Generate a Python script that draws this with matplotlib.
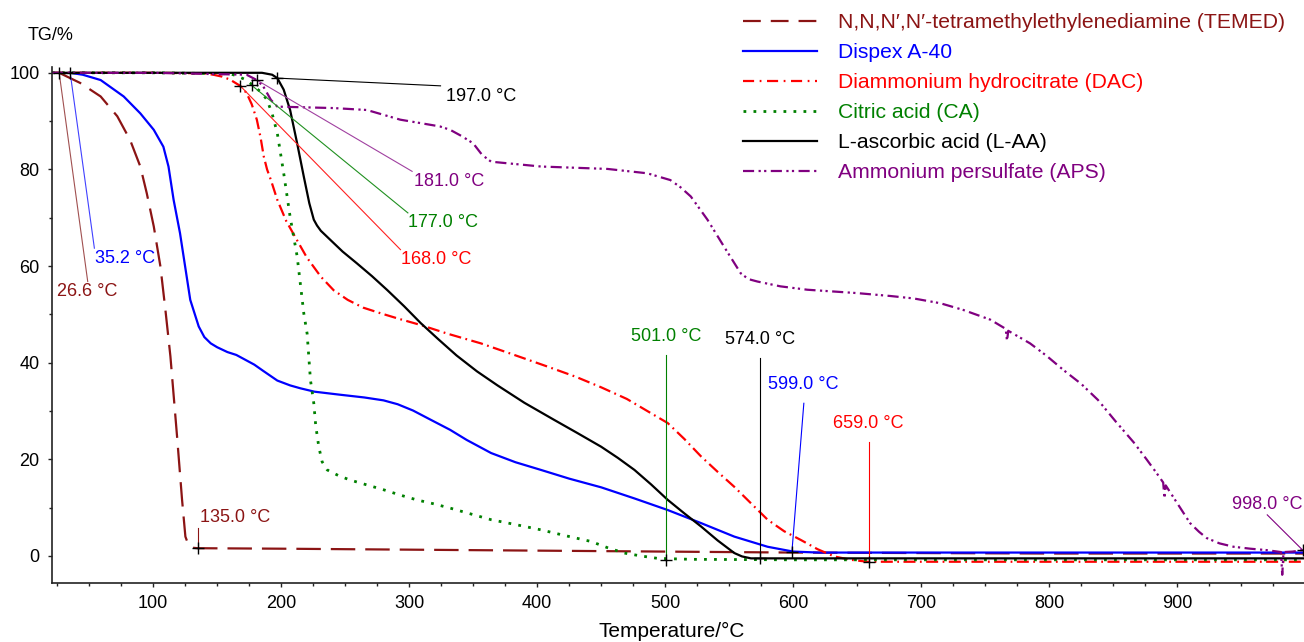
import matplotlib
matplotlib.use('Agg')
import matplotlib.pyplot as plt
from matplotlib.lines import Line2D
from matplotlib.ticker import MultipleLocator

plt.rcParams['font.family'] = ['Liberation Sans', 'DejaVu Sans']

# TG curves (temperature in degC, mass in %)
temed_T = [26.6, 43, 59, 72, 82, 90, 95, 100.5, 105.7, 109.6, 113.5, 118.7, 122.6, 125.2, 126.6,
           128.5, 130.5, 135, 200, 300, 400, 500, 600, 700, 800, 900, 1000]
temed_m = [100, 97.9, 95.1, 91, 86.1, 80.6, 75.1, 68.2, 59.9, 50.9, 41.3, 24.7, 11.6, 4, 3.0,
           2.1, 1.7, 1.6, 1.5, 1.3, 1.1, 0.9, 0.7, 0.6, 0.5, 0.5, 0.5]

dispex_T = [35.2, 45, 59, 77, 90, 100.5, 108, 112, 116, 121, 125, 129, 135.6, 140, 145, 150,
            158, 165, 172, 179, 186, 197, 207, 215, 226, 245, 265, 280, 291, 303, 316, 332, 345,
            364, 383, 403, 425, 450, 476, 502, 528, 554, 580, 600, 620, 700, 800, 900, 1000]
dispex_m = [100, 99.6, 98.5, 95.1, 91.6, 88.2, 84.7, 80.6, 73.7, 66.8, 59.9, 53, 47.5, 45.3, 44,
            43.2, 42.2, 41.6, 40.6, 39.6, 38.3, 36.3, 35.3, 34.7, 34, 33.4, 32.8, 32.2, 31.4, 30.1,
            28.3, 26.1, 24.0, 21.3, 19.4, 17.8, 16.0, 14.2, 11.9, 9.5, 6.8, 4, 1.9, 0.9, 0.7, 0.7,
            0.7, 0.7, 0.7]

dac_T = [21, 100, 140, 147, 154, 160, 168, 173, 177, 181, 184, 186.4, 189, 192, 197, 204, 211,
         220, 231, 241, 252, 264, 278, 293, 309, 330, 356, 380, 408, 430, 450, 470, 486, 502,
         515, 528, 541, 554, 567, 580, 593, 606, 619, 632, 645, 658, 700, 800, 900, 1000]
dac_m = [100, 100, 99.9, 99.6, 99.2, 98.6, 97.3, 95.8, 93.5, 90.3, 86.5, 82.7, 80, 77.8, 73.7,
         69.3, 66, 61.8, 57.8, 55, 53, 51.4, 50.2, 49, 47.8, 46, 44, 41.8, 39.2, 37.1, 34.9, 32.5,
         30.0, 27.5, 24.2, 20.6, 17.4, 14.3, 10.9, 7.5, 5.1, 3.3, 1.4, -0.1, -0.8, -1.2, -1.2,
         -1.2, -1.2, -1.2]

ca_T = [21, 100, 160, 165, 172, 178.6, 185, 189, 193, 197, 202, 207, 212.5, 217.7, 220.3, 222.9,
        225.5, 227, 229.4, 232, 236, 245, 254, 267, 280, 293, 306, 319, 332, 348, 364, 383, 403,
        422, 442, 455, 468, 481, 494, 520, 600, 700, 800, 900, 1000]
ca_m = [100, 100, 99.8, 99.4, 98.6, 97.3, 95.8, 94.4, 91.5, 87.5, 79.2, 70.2, 62, 50.2, 46, 36.4,
        31.6, 27, 22.6, 19.5, 17.8, 16.6, 15.7, 14.7, 13.7, 12.6, 11.6, 10.8, 9.9, 8.7, 7.5,
        6.5, 5.4, 4.2, 3.0, 1.7, 0.6, 0, -0.5, -0.7, -0.8, -0.8, -0.8, -0.8, -0.8]

laa_T = [21, 100, 185, 189, 193, 197, 202, 207, 212.5, 217.7, 222, 225.5, 228, 231, 238.5, 248,
         259, 271, 283, 296, 309, 323, 337, 353, 369, 390, 413, 431, 450, 463, 476, 489, 502,
         515, 528, 541, 554, 560, 567, 600, 700, 800, 900, 1000]
laa_m = [100, 100, 100, 99.8, 99.6, 98.9, 96.5, 92.3, 85.4, 78.5, 73, 69.6, 68.4, 67.3, 65.4,
         63, 60.6, 57.9, 55, 51.7, 48.2, 44.8, 41.5, 38.2, 35.3, 31.7, 28.2, 25.5, 22.6, 20.3,
         17.8, 14.8, 11.6, 8.8, 6.1, 3.2, 0.6, -0.1, -0.5, -0.5, -0.5, -0.5, -0.5, -0.5]

aps_T = [21, 100, 173, 181, 186, 189, 192, 197, 241, 267, 293, 324, 332, 341, 350, 357, 364,
         403, 455, 486, 504, 512, 520, 533, 546, 559, 565, 572, 590, 611, 650, 676, 694, 715,
         733, 754, 766, 767, 768, 785, 798, 811, 825, 838, 852, 866, 876, 884, 889, 890, 891,
         900, 910, 917, 923, 933, 944, 957, 970, 981, 982, 983, 990, 998, 1000]
aps_m = [100, 100, 99.6, 98.5, 97.2, 95.8, 94.4, 93, 92.7, 92.3, 90.3, 88.9, 88.2, 86.9, 85.4,
         83, 81.6, 80.6, 80.1, 79.2, 77.8, 76.3, 74.4, 69.6, 64, 58.5, 57.3, 56.8, 55.8, 55.1,
         54.4, 53.8, 53.3, 52.3, 50.9, 48.9, 47, 44.5, 46.6, 44, 41.4, 38.5, 35.6, 32.3, 27.8,
         23.5, 20, 17.1, 15.2, 12.0, 14.6, 10.9, 6.8, 5, 3.7, 2.6, 1.9, 1.5, 1.2, 0.8, -3.9, 0.8,
         0.9, 1.2, 1.2]

# onset / end temperatures with label positions
ann_T = [26.6, 35.2, 135.0, 197.0, 181.0, 177.0, 168.0, 501.0, 574.0, 599.0, 659.0, 998.0]
ann_m = [100, 100, 1.6, 98.9, 98.5, 97.4, 97.3, -0.8, -0.5, 0.9, -1.2, 1.2]
ann_lx = [48.9, 54.1, 135.0, 324.5, 302.3, 299.0, 293.2, 501.0, 574.0, 608.3, 659.0, 970.3]
ann_ly = [56.8, 63.7, 5.7, 97.3, 79.6, 71.0, 63.4, 41.6, 40.9, 31.6, 23.5, 8.5]
ann_tx = [25.0, 54.4, 137.0, 328.4, 303.6, 299.0, 293.5, 501.0, 574.0, 608.0, 659.0, 997.7]
ann_ty = [54.7, 61.6, 8.0, 95.0, 77.5, 69.1, 61.3, 43.7, 43.1, 33.7, 25.7, 10.6]
ann_ha = ['left', 'left', 'left', 'left', 'left', 'left', 'left', 'center', 'center', 'center',
          'center', 'right']
ann_col = ['#8b1414', '#0000ff', '#8b1414', '#000000', '#800080', '#008000', '#ff0000',
           '#008000', '#000000', '#0000ff', '#ff0000', '#800080']
ann_line = ['#a05050', '#4040ff', '#8b1414', '#000000', '#a040a0', '#209020', '#ff2020',
            '#008000', '#000000', '#0000ff', '#ff0000', '#800080']

names = ['N,N,N\u2032,N\u2032-tetramethylethylenediamine (TEMED)', 'Dispex A-40',
         'Diammonium hydrocitrate (DAC)', 'Citric acid (CA)', 'L-ascorbic acid (L-AA)',
         'Ammonium persulfate (APS)']
colors = ['#8b1414', '#0000ff', '#ff0000', '#008000', '#000000', '#800080']

fig = plt.figure(figsize=(13.04, 6.42), dpi=100)
ax = fig.add_axes([52 / 1304, 59 / 642, 1 - 52 / 1304, (583 - 67) / 642])

lw = 1.6
ax.plot(temed_T, temed_m, color=colors[0], lw=lw, dashes=(11, 4.5))
ax.plot(dispex_T, dispex_m, color=colors[1], lw=lw)
ax.plot(dac_T, dac_m, color=colors[2], lw=lw, dashes=(5.4, 2, 0.8, 2))
ax.plot(ca_T, ca_m, color=colors[3], lw=2, dashes=(1, 2.6))
ax.plot(laa_T, laa_m, color=colors[4], lw=lw)
ax.plot(aps_T, aps_m, color=colors[5], lw=lw, dashes=(5, 2, 1, 1.5, 1, 2))

for i in range(len(ann_T)):
    ax.plot([ann_T[i], ann_lx[i]], [ann_m[i], ann_ly[i]], color=ann_line[i], lw=0.8)
    ax.plot(ann_T[i], ann_m[i], '+', color='k', ms=8, mew=1)
    ax.text(ann_tx[i], ann_ty[i], '%.1f \u00b0C' % ann_T[i], color=ann_col[i], fontsize=13,
            ha=ann_ha[i], va='center' if ann_ha[i] != 'center' else 'bottom')

ax.set_xlim(21, 999)
ax.set_ylim(-5.6, 101.2)
ax.xaxis.set_major_locator(MultipleLocator(100))
ax.xaxis.set_minor_locator(MultipleLocator(25))
ax.yaxis.set_major_locator(MultipleLocator(20))
ax.yaxis.set_minor_locator(MultipleLocator(10))
ax.spines['top'].set_visible(False)
ax.spines['right'].set_visible(False)
for s in ['left', 'bottom']:
    ax.spines[s].set_linewidth(1.2)
    ax.spines[s].set_color('#222222')
ax.tick_params(which='major', length=3, width=1, labelsize=13, pad=6, color='#222222')
ax.tick_params(which='minor', length=2.5, width=1, color='#222222')

fig.text(28 / 1304, 1 - 36 / 642, 'TG/%', fontsize=13, va='center', ha='left')
fig.text(672 / 1304, 1 - 631 / 642, 'Temperature/\u00b0C', fontsize=15, va='center', ha='center')

# legend handles drawn with the shorter dashes seen in the key
handles = [Line2D([], [], color=colors[0], lw=lw, dashes=(8, 4.5)),
           Line2D([], [], color=colors[1], lw=lw),
           Line2D([], [], color=colors[2], lw=lw, dashes=(5, 2.5, 0.8, 2.5)),
           Line2D([], [], color=colors[3], lw=2, dashes=(1, 2.6)),
           Line2D([], [], color=colors[4], lw=lw),
           Line2D([], [], color=colors[5], lw=lw, dashes=(5, 2, 1, 1.5, 1, 2))]
leg = ax.legend(handles, names, loc='upper left',
                bbox_to_anchor=(743 / 1304, 1 - 13 / 642), bbox_transform=fig.transFigure,
                frameon=False, fontsize=15.2, handlelength=3.5, handletextpad=1.0,
                labelspacing=0.52, borderpad=0, borderaxespad=0)
for t, c in zip(leg.get_texts(), colors):
    t.set_color(c)

fig.savefig('out.png', dpi=100)
